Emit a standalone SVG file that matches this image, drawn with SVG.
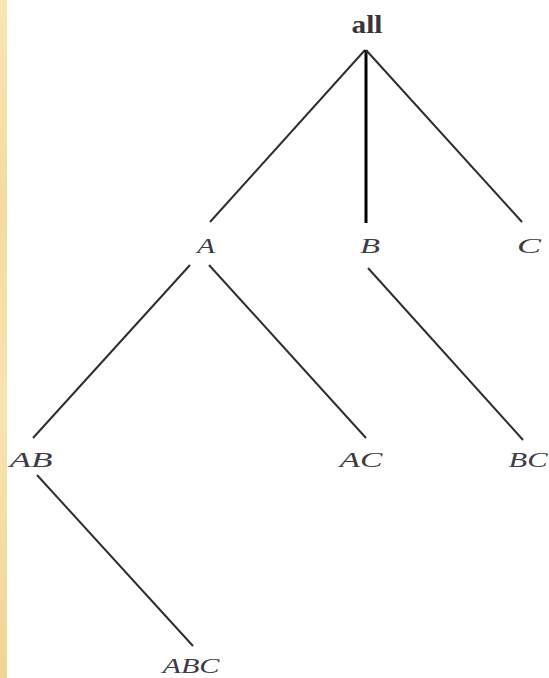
<svg xmlns="http://www.w3.org/2000/svg" width="549" height="678" viewBox="0 0 549 678">
  <defs>
    <linearGradient id="strip" x1="0" y1="0" x2="0" y2="1">
      <stop offset="0" stop-color="#f8e7b4"/>
      <stop offset="0.3" stop-color="#f3dc9c"/>
      <stop offset="0.6" stop-color="#f7e5b0"/>
      <stop offset="1" stop-color="#efd592"/>
    </linearGradient>
    <style>
      .lbl { font-family: "Liberation Serif", "Times New Roman", serif; font-style: italic; font-size: 21px; fill: #3c3c44; text-anchor: middle; }
      .root { font-family: "Liberation Serif", "Times New Roman", serif; font-weight: bold; font-size: 25px; fill: #3a3438; text-anchor: middle; }
      .edge { stroke: #2e2e2e; stroke-width: 2; fill: none; }
      .edge-v { stroke: #000; stroke-width: 3; fill: none; }
    </style>
  </defs>
  <rect x="0" y="0" width="549" height="678" fill="#ffffff"/>
  <rect x="0" y="0" width="7" height="678" fill="url(#strip)"/>

  <g id="connectors">
    <line class="edge" x1="365" y1="50" x2="210" y2="222"/>
    <line class="edge-v" x1="366" y1="50" x2="366" y2="223"/>
    <line class="edge" x1="366" y1="50" x2="522" y2="222"/>
    <line class="edge" x1="190" y1="265" x2="33" y2="438"/>
    <line class="edge" x1="209" y1="265" x2="366" y2="438"/>
    <line class="edge" x1="368" y1="268" x2="523" y2="440"/>
    <line class="edge" x1="37" y1="475" x2="193" y2="646"/>
  </g>

  <g id="node-all"><text class="root" x="367" y="33" textLength="31" lengthAdjust="spacingAndGlyphs">all</text></g>
  <g id="node-A"><text class="lbl" x="206" y="253" textLength="18" lengthAdjust="spacingAndGlyphs">A</text></g>
  <g id="node-B"><text class="lbl" x="370" y="253" textLength="20" lengthAdjust="spacingAndGlyphs">B</text></g>
  <g id="node-C"><text class="lbl" x="529" y="253" textLength="24" lengthAdjust="spacingAndGlyphs">C</text></g>
  <g id="node-AB"><text class="lbl" x="31" y="467" textLength="43" lengthAdjust="spacingAndGlyphs">AB</text></g>
  <g id="node-AC"><text class="lbl" x="361" y="467" textLength="43" lengthAdjust="spacingAndGlyphs">AC</text></g>
  <g id="node-BC"><text class="lbl" x="528" y="467" textLength="39" lengthAdjust="spacingAndGlyphs">BC</text></g>
  <g id="node-ABC"><text class="lbl" x="191" y="673" textLength="57" lengthAdjust="spacingAndGlyphs">ABC</text></g>
</svg>
